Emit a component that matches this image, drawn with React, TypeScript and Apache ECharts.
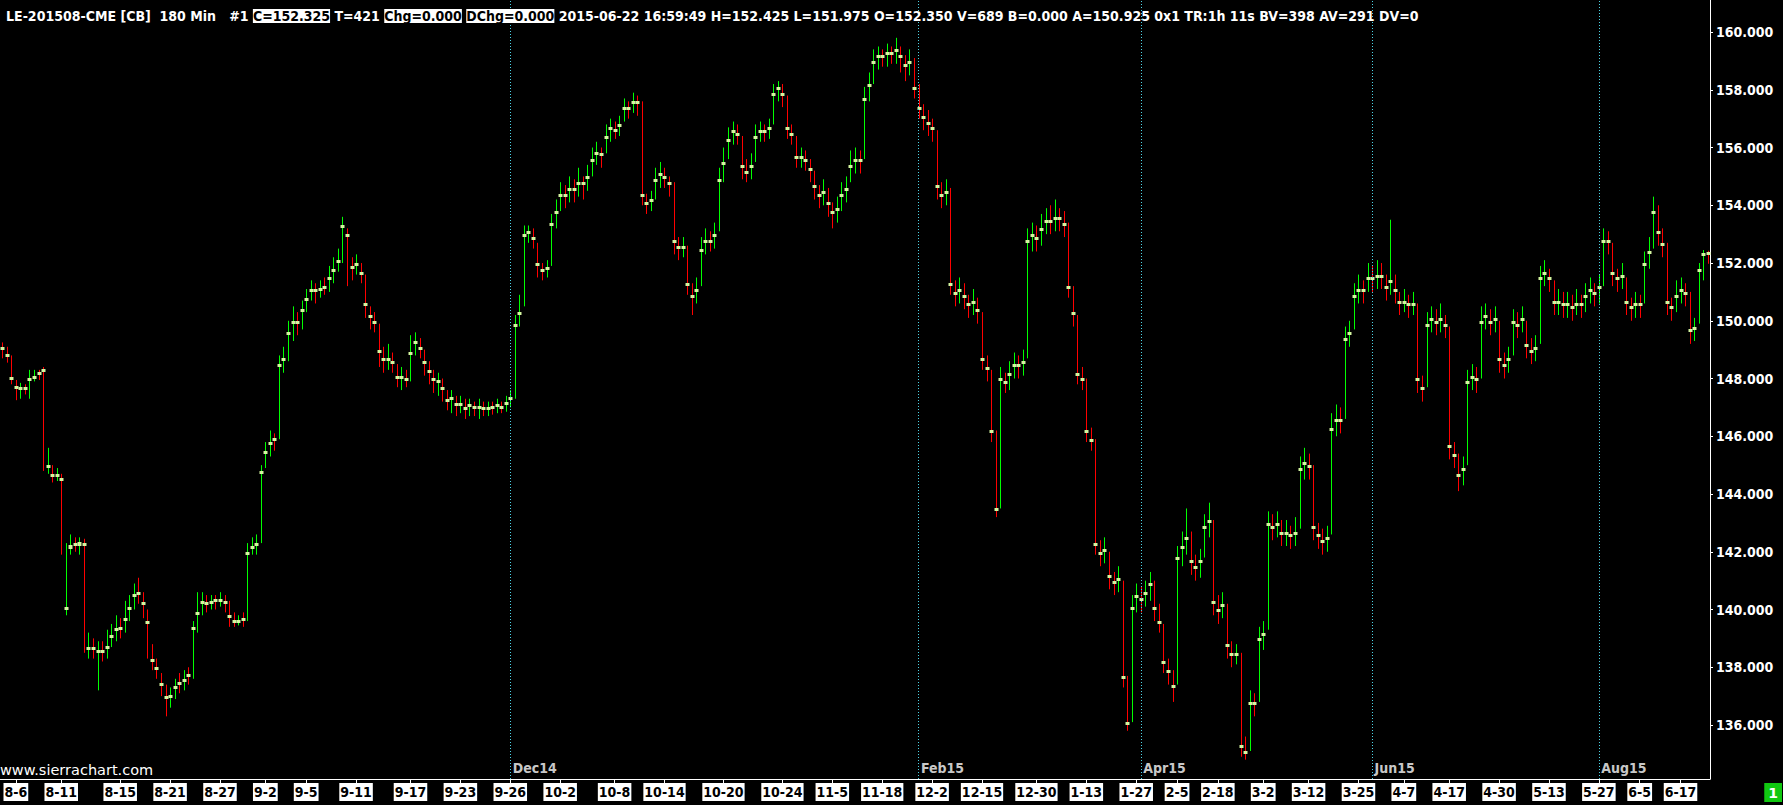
import React, { useEffect, useRef } from "react";
import * as echarts from "echarts";

// [open, close, low, high] per 180-min bar
const ohlc: number[][] = [
  [149.05,149.0,148.7,149.25],[148.85,148.75,148.55,149.1],[148.05,147.95,147.8,148.8],[147.75,147.65,147.25,147.95],[147.6,147.7,147.3,147.85],
  [147.7,147.6,147.45,147.8],[147.9,148.0,147.3,148.3],[148.0,148.1,147.9,148.3],[148.2,148.15,147.95,148.3],[148.3,148.25,144.8,148.4],
  [144.9,145.0,144.7,145.6],[144.7,144.6,144.4,145.0],[144.6,144.7,144.45,144.9],[144.55,144.45,141.9,144.7],[140.0,140.1,139.8,142.3],
  [142.1,142.25,141.9,142.6],[142.3,142.2,142.0,142.5],[142.2,142.35,141.9,142.5],[142.3,142.2,138.5,142.45],[138.6,138.7,138.3,139.2],
  [138.7,138.6,138.3,139.0],[138.5,138.6,137.2,138.9],[138.6,138.5,138.2,138.9],[138.65,138.75,138.3,139.3],[139.0,139.1,138.7,139.5],
  [139.25,139.35,138.9,139.8],[139.4,139.3,139.0,139.7],[139.6,139.7,139.2,140.3],[140.0,140.1,139.6,140.5],[140.45,140.55,140.0,140.9],
  [140.6,140.5,140.2,141.1],[140.25,140.15,139.7,140.6],[139.6,139.5,138.3,140.0],[138.3,138.2,137.9,138.8],[138.0,137.9,137.6,138.3],
  [137.45,137.35,137.0,137.8],[137.0,136.9,136.3,137.4],[136.95,137.05,136.6,137.3],[137.25,137.35,136.9,137.6],[137.5,137.4,137.1,137.8],
  [137.5,137.6,137.2,137.9],[137.75,137.65,137.4,138.0],[139.3,139.4,137.6,139.6],[139.8,139.9,139.2,140.6],[140.2,140.3,139.8,140.6],
  [140.25,140.15,139.9,140.5],[140.2,140.3,140.0,140.5],[140.35,140.25,140.0,140.5],[140.25,140.35,140.1,140.6],[140.3,140.2,139.9,140.5],
  [139.8,139.7,139.4,140.3],[139.65,139.55,139.4,139.9],[139.55,139.65,139.45,139.8],[139.7,139.6,139.4,139.9],[141.9,142.0,139.6,142.3],
  [142.1,142.2,141.9,142.5],[142.2,142.3,141.9,142.6],[144.7,144.8,142.3,145.0],[145.4,145.5,144.9,145.8],[145.7,145.8,145.3,146.2],
  [145.95,145.85,145.5,146.1],[148.4,148.5,145.9,148.8],[148.6,148.7,148.2,149.1],[149.5,149.6,148.6,150.0],[149.9,150.0,149.3,150.5],
  [150.0,149.9,149.5,150.3],[150.3,150.4,149.7,150.7],[150.7,150.8,150.3,151.1],[151.0,151.1,150.7,151.4],[151.1,151.0,150.6,151.3],
  [151.05,151.15,150.8,151.4],[151.2,151.1,150.9,151.5],[151.4,151.5,151.0,151.9],[151.7,151.8,151.3,152.2],[152.0,152.1,151.7,152.5],
  [153.2,153.3,152.0,153.6],[153.0,152.9,151.2,153.2],[151.9,151.8,151.4,152.2],[151.9,152.0,151.6,152.3],[151.7,151.6,151.3,152.0],
  [150.6,150.5,150.1,151.6],[150.2,150.1,149.7,150.5],[150.0,149.9,149.6,150.3],[149.0,148.9,148.4,149.9],[148.7,148.6,148.2,149.1],
  [148.6,148.7,148.3,149.2],[148.6,148.5,148.2,148.9],[148.1,148.0,147.7,148.5],[148.0,148.1,147.6,148.4],[148.0,147.9,147.7,148.3],
  [148.8,148.9,147.9,149.5],[149.2,149.3,148.8,149.6],[149.1,149.0,148.7,149.4],[148.6,148.5,148.1,149.0],[148.3,148.2,147.8,148.6],
  [148.0,147.9,147.5,148.3],[147.85,147.95,147.4,148.2],[147.7,147.6,147.2,148.0],[147.3,147.2,146.9,147.6],[147.25,147.35,146.8,147.6],
  [147.15,147.05,146.7,147.4],[147.05,147.15,146.8,147.4],[147.0,146.9,146.6,147.3],[147.0,147.1,146.7,147.3],[147.05,146.95,146.7,147.2],
  [146.95,147.05,146.6,147.3],[147.0,146.9,146.7,147.2],[146.9,147.0,146.7,147.2],[147.05,146.95,146.75,147.2],[147.0,147.1,146.8,147.3],
  [147.05,146.95,146.8,147.2],[147.1,147.2,146.85,147.4],[147.25,147.35,147.0,147.6],[149.8,149.9,147.3,150.2],[150.2,150.3,149.8,150.9],
  [152.9,153.0,150.5,153.3],[153.0,153.1,152.7,153.3],[152.9,152.8,152.5,153.2],[152.0,151.9,151.5,152.7],[151.8,151.7,151.4,152.0],
  [151.75,151.85,151.5,152.1],[153.3,153.4,151.9,153.7],[153.7,153.8,153.2,154.2],[154.3,154.4,153.8,154.8],[154.4,154.3,153.9,154.7],
  [154.5,154.6,154.1,155.0],[154.6,154.5,154.1,154.9],[154.7,154.8,154.3,155.3],[154.8,154.7,154.2,155.0],[154.9,155.0,154.5,155.4],
  [155.5,155.6,155.0,156.0],[155.75,155.85,155.4,156.2],[155.8,155.7,155.3,156.0],[156.3,156.4,155.8,156.8],[156.6,156.7,156.2,157.0],
  [156.65,156.55,156.3,156.9],[156.7,156.8,156.4,157.1],[157.3,157.4,156.9,157.7],[157.4,157.3,157.0,157.6],[157.5,157.6,157.2,157.9],
  [157.6,157.5,157.1,157.8],[154.4,154.3,154.0,157.6],[154.1,154.0,153.7,154.4],[154.1,154.2,153.8,154.5],[154.8,154.9,154.2,155.3],
  [155.0,155.1,154.6,155.5],[155.0,154.9,154.6,155.3],[154.8,154.7,154.3,155.0],[152.8,152.7,152.3,154.8],[152.6,152.5,152.1,152.9],
  [152.5,152.6,152.2,152.9],[151.3,151.2,150.9,152.6],[150.9,150.8,150.2,151.3],[151.0,151.1,150.6,151.5],[152.4,152.5,151.2,152.9],
  [152.7,152.8,152.3,153.2],[152.8,152.7,152.4,153.1],[152.9,153.0,152.5,153.4],[154.8,154.9,153.1,155.3],[155.4,155.5,154.8,156.0],
  [156.2,156.3,155.6,156.7],[156.5,156.6,156.1,156.9],[156.5,156.4,156.1,156.8],[155.4,155.3,154.9,156.4],[155.2,155.1,154.8,155.6],
  [155.3,155.4,154.9,155.8],[156.3,156.4,155.5,156.8],[156.5,156.6,156.2,156.9],[156.6,156.5,156.2,156.8],[156.6,156.7,156.3,157.0],
  [157.8,157.9,156.8,158.2],[158.0,158.1,157.6,158.3],[157.9,157.8,157.4,158.2],[156.7,156.6,156.3,157.8],[156.5,156.4,156.1,156.8],
  [155.7,155.6,155.3,156.4],[155.6,155.7,155.3,156.0],[155.6,155.5,155.2,155.9],[155.3,155.2,154.8,155.6],[154.7,154.6,154.2,155.2],
  [154.4,154.3,153.9,154.7],[154.4,154.5,154.0,154.9],[154.1,154.0,153.6,154.6],[153.8,153.7,153.2,154.1],[153.8,153.9,153.4,154.3],
  [154.3,154.4,153.8,154.8],[154.5,154.6,154.1,155.0],[155.3,155.4,154.8,155.9],[155.5,155.6,155.1,156.0],[155.6,155.5,155.1,155.9],
  [157.6,157.7,155.6,158.1],[158.1,158.2,157.6,158.6],[158.9,159.0,158.2,159.4],[159.1,159.2,158.7,159.5],[159.2,159.1,158.8,159.4],
  [159.2,159.3,158.8,159.6],[159.3,159.2,158.9,159.5],[159.3,159.4,158.9,159.8],[159.2,159.1,158.6,159.5],[158.9,158.8,158.3,159.2],
  [158.9,159.0,158.5,159.4],[158.1,158.0,157.7,159.1],[157.4,157.3,157.0,158.2],[157.1,157.0,156.6,157.5],[156.9,156.8,156.4,157.3],
  [156.7,156.6,156.2,157.0],[154.7,154.6,154.2,156.6],[154.4,154.3,153.9,154.8],[154.4,154.5,154.0,154.9],[151.3,151.2,150.9,154.6],
  [151.0,150.9,150.5,151.4],[151.0,151.1,150.6,151.5],[150.9,150.8,150.4,151.3],[150.6,150.5,150.1,150.9],[150.6,150.7,150.2,151.1],
  [150.4,150.3,149.9,150.8],[148.7,148.6,148.3,150.3],[148.4,148.3,147.9,148.8],[146.2,146.1,145.8,148.3],[143.5,143.4,143.2,146.2],
  [147.9,148.0,143.5,148.4],[147.9,147.8,147.5,148.2],[148.1,148.2,147.6,148.6],[148.4,148.5,148.0,148.9],[148.5,148.4,148.0,148.8],
  [148.5,148.6,148.1,149.0],[152.7,152.8,148.7,153.2],[152.9,153.0,152.4,153.4],[152.9,152.8,152.4,153.3],[153.1,153.2,152.6,153.7],
  [153.4,153.5,153.0,153.9],[153.5,153.4,153.0,154.0],[153.5,153.6,153.1,154.2],[153.6,153.5,153.1,153.9],[153.4,153.3,152.9,153.8],
  [151.2,151.1,150.8,153.4],[150.3,150.2,149.8,151.2],[148.2,148.1,147.8,150.2],[148.0,147.9,147.6,148.4],[146.2,146.1,145.8,148.0],
  [145.9,145.8,145.5,146.3],[142.3,142.2,141.9,145.9],[142.0,141.9,141.5,142.4],[142.0,142.1,141.6,142.5],[141.2,141.1,140.7,142.0],
  [141.0,140.9,140.5,141.3],[141.0,141.1,140.6,141.5],[137.7,137.6,137.3,141.0],[136.1,136.0,135.8,137.7],[140.0,140.1,136.1,140.5],
  [140.4,140.5,139.9,140.9],[140.4,140.3,139.9,140.8],[140.5,140.6,140.1,141.0],[140.8,140.9,140.3,141.3],[140.1,140.0,139.6,141.0],
  [139.6,139.5,139.2,140.2],[138.2,138.1,137.8,139.5],[137.9,137.8,137.4,138.3],[137.4,137.3,136.8,137.9],[141.7,141.8,137.4,142.2],
  [142.1,142.2,141.5,142.7],[142.4,142.5,141.9,143.5],[141.7,141.6,141.2,142.7],[141.5,141.4,141.0,141.9],[141.6,141.7,141.1,142.1],
  [142.8,142.9,141.8,143.3],[143.0,143.1,142.5,143.7],[140.3,140.2,139.8,143.1],[140.0,139.9,139.5,140.5],[140.1,140.2,139.7,140.6],
  [138.8,138.7,138.3,140.2],[138.5,138.4,138.0,138.9],[138.4,138.5,138.1,138.8],[135.3,135.2,134.9,138.5],[135.1,135.0,134.8,135.6],
  [136.7,136.8,135.1,137.2],[136.8,136.7,136.3,137.1],[138.9,139.0,136.8,139.4],[139.1,139.2,138.6,139.6],[142.9,143.0,139.3,143.4],
  [142.9,142.8,142.4,143.3],[142.9,143.0,142.5,143.4],[142.7,142.6,142.2,143.1],[142.6,142.7,142.2,143.1],[142.6,142.5,142.1,142.9],
  [142.6,142.7,142.2,143.2],[144.8,144.9,142.8,145.3],[145.0,145.1,144.5,145.6],[145.0,144.9,144.5,145.4],[142.9,142.8,142.4,145.0],
  [142.6,142.5,142.1,143.0],[142.4,142.3,141.9,142.8],[142.4,142.5,142.0,142.9],[146.2,146.3,142.6,146.8],[146.5,146.6,146.0,147.1],
  [146.6,146.5,146.1,147.0],[149.3,149.4,146.6,149.8],[149.5,149.6,149.1,150.0],[150.8,150.9,149.7,151.3],[151.0,151.1,150.6,151.6],
  [151.1,151.0,150.6,151.4],[151.4,151.5,151.0,152.0],[151.5,151.4,151.0,151.9],[151.5,151.6,151.1,152.1],[151.6,151.5,151.1,152.0],
  [151.2,151.1,150.7,151.6],[151.3,151.4,150.9,153.5],[151.1,151.0,150.6,151.6],[150.7,150.6,150.2,151.0],[150.6,150.7,150.3,151.1],
  [150.6,150.5,150.1,150.9],[150.5,150.6,150.2,151.0],[148.0,147.9,147.5,150.6],[147.7,147.6,147.2,148.1],[149.8,149.9,147.7,150.3],
  [150.0,150.1,149.6,150.5],[150.0,149.9,149.5,150.4],[150.0,150.1,149.6,150.6],[149.9,149.8,149.4,150.2],[145.7,145.6,145.2,149.8],
  [145.4,145.3,144.9,145.8],[144.7,144.6,144.1,145.4],[144.8,144.9,144.3,145.3],[147.8,147.9,145.0,148.3],[148.0,148.1,147.6,148.5],
  [148.0,147.9,147.5,148.4],[149.9,150.0,148.0,150.5],[150.1,150.2,149.7,150.6],[150.0,149.9,149.5,150.4],[150.0,150.1,149.6,150.5],
  [148.7,148.6,148.2,150.0],[148.5,148.4,148.0,148.9],[148.6,148.7,148.2,149.1],[149.9,150.0,148.8,150.4],[149.9,149.8,149.4,150.3],
  [150.0,150.1,149.6,150.5],[149.2,149.1,148.7,150.0],[149.0,148.9,148.5,149.4],[149.0,149.1,148.6,149.5],[151.4,151.5,149.2,151.9],
  [151.6,151.7,151.2,152.1],[151.5,151.4,151.0,151.8],[150.7,150.6,150.2,151.4],[150.6,150.7,150.2,151.1],[150.6,150.5,150.1,151.0],
  [150.5,150.6,150.1,151.0],[150.5,150.4,150.0,150.9],[150.5,150.6,150.2,151.1],[150.6,150.5,150.1,150.9],[150.8,150.9,150.3,151.3],
  [151.0,151.1,150.6,151.5],[151.0,150.9,150.5,151.3],[151.1,151.2,150.6,151.6],[152.7,152.8,151.2,153.2],[152.8,152.7,152.3,153.1],
  [151.7,151.6,151.2,152.7],[151.5,151.4,151.0,151.8],[151.5,151.6,151.1,152.0],[150.7,150.6,150.2,151.5],[150.5,150.4,150.0,150.8],
  [150.5,150.6,150.1,151.0],[150.6,150.5,150.1,150.9],[151.9,152.0,150.6,152.4],[152.3,152.4,151.8,152.9],[153.7,153.8,152.5,154.3],
  [153.1,153.0,152.6,154.0],[152.7,152.6,152.2,153.2],[150.7,150.6,150.2,152.7],[150.5,150.4,150.0,150.8],[150.8,150.9,150.3,151.4],
  [151.0,151.1,150.6,151.5],[151.0,150.9,150.5,151.3],[149.7,149.6,149.2,151.0],[149.7,149.8,149.3,150.1],[151.7,151.8,149.9,152.0],
  [152.25,152.35,151.4,152.45],[152.35,152.325,151.975,152.425],
];

const tickLabels = ["8-6","8-11","8-15","8-21","8-27","9-2","9-5","9-11","9-17","9-23","9-26","10-2","10-8","10-14","10-20","10-24","11-5","11-18","12-2","12-15","12-30","1-13","1-27","2-5","2-18","3-2","3-12","3-25","4-7","4-17","4-30","5-13","5-27","6-5","6-17"];
const tickBars = [3,13,26,37,48,58,67,78,90,101,112,123,135,146,159,172,183,194,205,216,228,239,250,259,268,278,288,299,309,319,330,341,352,361,370];

const rollLabels = ["Dec14","Feb15","Apr15","Jun15","Aug15"];
const rollBars = [112,202,251,302,352];

const yTicks = [136,138,140,142,144,146,148,150,152,154,156,158,160];
const yMin = 134.13;
const yMax = 161.11;
const lastPrice = 152.325;

const headerPlain1 = "LE-201508-CME [CB]  180 Min   #1 ";
const headerBox1 = "C=152.325";
const headerPlain2 = " T=421 ";
const headerBox2 = "Chg=0.000";
const headerPlain3 = " ";
const headerBox3 = "DChg=0.000";
const headerPlain4 = " 2015-06-22 16:59:49 H=152.425 L=151.975 O=152.350 V=689 B=0.000 A=150.925 0x1 TR:1h 11s BV=398 AV=291 DV=0";

const FONT = '"DejaVu Sans Condensed", "DejaVu Sans", sans-serif';
const UP = "#00ff00";
const DOWN = "#ff0000";
const BODY = "#d4f5a0";

const nb = (s: string) => s.replace(/ /g, "\u00a0");

export default function App() {
  const ref = useRef<HTMLDivElement>(null);
  useEffect(() => {
    if (!ref.current) return;
    const chart = echarts.init(ref.current, null, { renderer: "svg" });
    const cats = ohlc.map((_, i) => String(i));
    const data = ohlc.map((d, i) => [i, d[0], d[1], d[2], d[3]]);
    const labelAt = (idx: number) => tickBars.indexOf(idx);

    chart.setOption({
      animation: false,
      backgroundColor: "#000",
      title: {
        left: 1,
        top: 0,
        text:
          "{n|" + nb(headerPlain1) + "}{b|" + headerBox1 + "}{n|" + nb(headerPlain2) + "}{b|" + headerBox2 +
          "}{n|" + nb(headerPlain3) + "}{b|" + headerBox3 + "}{n|" + nb(headerPlain4) + "}",
        textStyle: {
          rich: {
            n: { color: "#fff", fontSize: 14, fontWeight: "bold", fontFamily: FONT, lineHeight: 22 },
            b: { color: "#000", backgroundColor: "#fff", fontSize: 14, fontWeight: "bold", fontFamily: FONT, lineHeight: 22 },
          },
        },
      },
      grid: { left: 0, right: 73, top: 0, bottom: 26, containLabel: false },
      xAxis: {
        type: "category",
        data: cats,
        boundaryGap: true,
        axisLine: { show: true, lineStyle: { color: "#fff", width: 1 } },
        axisTick: {
          show: true,
          alignWithLabel: true,
          length: 4,
          interval: (idx: number) => labelAt(idx) >= 0,
          lineStyle: { color: "#fff" },
        },
        axisLabel: {
          interval: (idx: number) => labelAt(idx) >= 0,
          formatter: (_v: string, idx: number) => (labelAt(idx) >= 0 ? tickLabels[labelAt(idx)] : ""),
          color: "#000",
          backgroundColor: "#fff",
          fontSize: 14,
          fontWeight: "bold",
          fontFamily: FONT,
          lineHeight: 16,
          padding: [1, 1, 1, 1],
          margin: 4,
          hideOverlap: false,
        },
        splitLine: { show: false },
      },
      yAxis: {
        type: "value",
        position: "right",
        min: yMin,
        max: yMax,
        splitLine: { show: false },
        axisLine: { show: true, lineStyle: { color: "#fff", width: 1 } },
        axisTick: { show: true, length: 3, customValues: yTicks, lineStyle: { color: "#fff" } },
        axisLabel: {
          customValues: yTicks,
          color: "#fff",
          fontSize: 14,
          fontWeight: "bold",
          fontFamily: FONT,
          margin: 6,
          formatter: (v: number) => v.toFixed(3),
        },
      },
      graphic: [
        {
          type: "text",
          left: 0,
          top: 762,
          style: { text: "www.sierrachart.com", fill: "#fff", font: '14.5px "DejaVu Sans", sans-serif' },
        },
        {
          type: "text",
          right: 1,
          top: 783,
          style: {
            text: "1",
            fill: "#fff",
            backgroundColor: "#11c811",
            padding: [3, 4, 2, 4],
            font: 'bold 14px "DejaVu Sans", sans-serif',
          },
        },
      ],
      series: [
        {
          type: "scatter",
          symbolSize: 1,
          itemStyle: { color: "rgba(0,0,0,0)" },
          silent: true,
          data: rollBars.map((b, i) => ({ value: [b, 134.5], name: rollLabels[i] })),
          label: {
            show: true,
            position: "right",
            distance: 2,
            formatter: (p: any) => p.name,
            color: "#fff",
            fontSize: 14,
            fontWeight: "bold",
            fontFamily: FONT,
          },
          markLine: {
            silent: true,
            symbol: ["none", "none"],
            label: { show: false },
            lineStyle: { color: "#4cd3e6", type: [1, 2], width: 1 },
            data: rollBars.map((b) => ({ xAxis: b })),
          },
          z: 1,
        },
        {
          type: "custom",
          data,
          encode: { x: 0, y: [1, 2, 3, 4] },
          renderItem: (_params: any, api: any) => {
            const i = api.value(0);
            const o = api.value(1);
            const c = api.value(2);
            const l = api.value(3);
            const h = api.value(4);
            const pO = api.coord([i, o]);
            const pC = api.coord([i, c]);
            const pL = api.coord([i, l]);
            const pH = api.coord([i, h]);
            const xr = Math.round(pO[0]);
            const x = xr + 0.5;
            const up = c >= o;
            const top = Math.min(pO[1], pC[1]);
            const bot = Math.max(pO[1], pC[1]);
            const bh = Math.max(bot - top, 3);
            const mid = (top + bot) / 2;
            return {
              type: "group",
              children: [
                { type: "line", shape: { x1: x, y1: pH[1], x2: x, y2: pL[1] }, style: { stroke: up ? UP : DOWN, lineWidth: 1 } },
                { type: "rect", shape: { x: xr - 1.5, y: Math.round(mid - bh / 2), width: 4, height: Math.round(bh) }, style: { fill: BODY } },
              ],
            };
          },
          markLine: {
            silent: true,
            symbol: ["none", "none"],
            lineStyle: { opacity: 0, width: 0 },
            label: {
              show: true,
              position: "end",
              distance: 5,
              formatter: lastPrice.toFixed(3),
              color: "#000",
              backgroundColor: "#fff",
              fontSize: 14,
              fontWeight: "bold",
              fontFamily: FONT,
              lineHeight: 15,
              padding: [3, 1, 2, 1],
            },
            data: [{ yAxis: lastPrice }],
          },
          z: 2,
        },
      ],
    });
    return () => chart.dispose();
  }, []);
  return (
    <div
      ref={ref}
      style={{ position: "fixed", left: 0, top: 0, width: 1783, height: 805, background: "#000" }}
    />
  );
}
